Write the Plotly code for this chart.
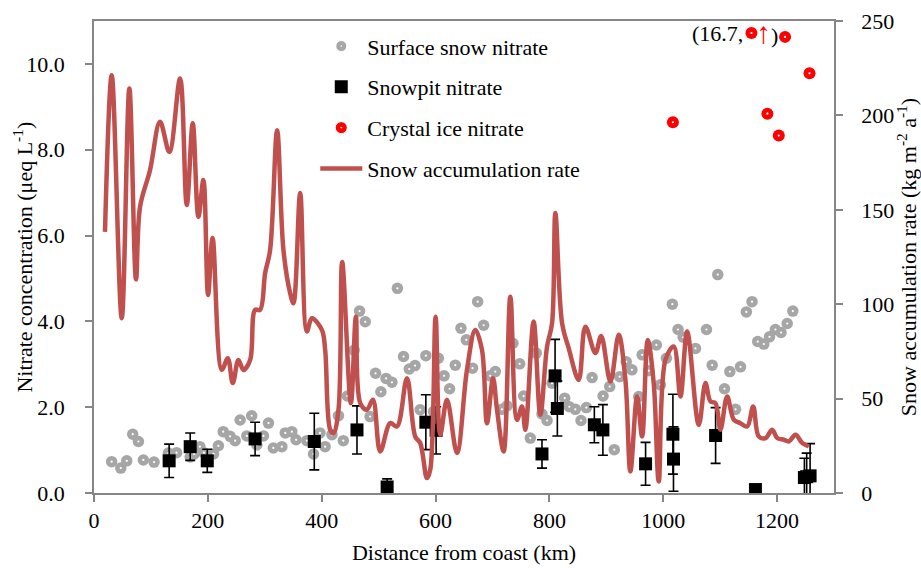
import plotly.graph_objects as go

# ---- Surface snow nitrate (µeq L-1) along the traverse ----
surface_km = [31, 47, 57.5, 68, 78, 86.7, 105.5, 130.7, 145, 169, 176, 186, 193, 210,
              218.5, 227, 239, 248, 256.7, 268.5, 277, 286, 297.7, 306.5, 315, 330, 336,
              347.5, 355, 374, 385.6, 388.5, 397, 406, 418, 429.5, 438, 445, 457, 466.5,
              476.5, 485, 494.6, 504, 513, 523.4, 533, 543.8, 553.8, 564, 573, 583, 596.6,
              605, 615, 624.7, 634.7, 644.7, 654, 665, 674, 684.5, 696, 705, 716.8, 725.6,
              736, 747.8, 754.8, 766.5, 777, 787, 795.9, 804.7, 826.9, 835, 845.6, 855.6,
              865, 875, 894.3, 906, 914, 923.5, 935, 945, 957, 963, 974.5, 988, 995,
              1005.6, 1016, 1026, 1035, 1056.6, 1076, 1086, 1095.8, 1107.6, 1117, 1127,
              1135.7, 1146, 1156, 1166, 1176.7, 1186.7, 1197, 1207, 1217.8, 1227.7]
surface_no3 = [0.73, 0.58, 0.75, 1.37, 1.20, 0.77, 0.72, 0.93, 0.94, 0.84, 0.91, 1.08, 0.94, 0.91,
               1.10, 1.43, 1.32, 1.22, 1.70, 1.33, 1.80, 1.12, 1.33, 1.63, 1.05, 1.08, 1.40,
               1.43, 1.24, 1.22, 0.91, 1.20, 1.40, 1.08, 1.36, 1.80, 1.22, 2.26, 3.33, 4.24,
               3.99, 1.78, 2.79, 2.36, 2.67, 2.58, 4.77, 3.18, 2.89, 2.97, 1.94, 3.20, 1.90,
               3.14, 2.73, 2.43, 2.98, 3.84, 3.57, 2.91, 4.46, 3.91, 2.73, 2.83, 1.95, 2.03,
               3.49, 3.01, 2.26, 1.28, 3.26, 1.84, 1.69, 2.56, 2.21, 2.01, 1.95, 1.69,
               1.99, 2.69, 2.26, 2.48, 1.01, 2.71, 3.06, 2.87, 2.25, 3.22, 2.85, 3.45, 2.52,
               3.14, 4.40, 3.81, 3.63, 3.37, 3.81, 2.98, 5.09, 2.43, 2.83, 1.95,
               2.94, 4.22, 4.46, 3.53, 3.47, 3.64, 3.81, 3.74, 3.95, 4.24]

# ---- Snowpit nitrate: mean and standard deviation ----
snowpit_km = [132, 169, 199, 283, 387, 462, 515, 583, 601, 787, 810, 814, 879, 894,
              969, 1017, 1018, 1092, 1162, 1248, 1252, 1258]
snowpit_no3 = [0.75, 1.08, 0.75, 1.26, 1.20, 1.47, 0.14, 1.65, 1.46, 0.91, 2.73, 1.97, 1.59, 1.47,
               0.68, 1.37, 0.79, 1.34, 0.08, 0.36, 0.38, 0.40]
snowpit_sd = [0.39, 0.32, 0.27, 0.39, 0.66, 0.56, 0.19, 0.64, 0.55, 0.33, 0.85, 0.64, 0.42, 0.59,
              0.50, 0.93, 0.75, 0.65, 0.0, 0.45, 0.55, 0.75]

# ---- Crystal ice nitrate ----
crystal_km = [1017, 1155, 1183, 1203, 1214, 1257]
crystal_no3 = [8.64, 16.7, 8.84, 8.33, 10.63, 9.78]

# ---- Snow accumulation rate (kg m-2 a-1) ----
accum_km = [19.3, 31.1, 48.7, 62.1, 73.8, 80.9, 98.5, 116, 132.4, 151.2, 163, 173.5, 183.4,
            192.2, 200.4, 208.3, 224.5, 235, 243.8, 253.7, 262.5, 274.3, 283, 291.8, 300.6,
            309.4, 321.7, 332.8, 344.6, 350.4, 362.2, 374, 382.7, 400.3, 406.1, 414.9, 420.7,
            429.5, 436, 451.3, 460.1, 467.7, 479.4, 490, 502.8, 520.4, 532.2, 549.8, 564.3,
            573.1, 584.9, 590.7, 600.1, 608.3, 620.1, 637.7, 655.2, 669.8, 681.6, 690.4, 701,
            708, 719.6, 731.4, 743.1, 751.9, 757.7, 772.3, 784.1, 795.9, 804.7, 810.5, 822.3,
            833.9, 851.5, 863.2, 880.8, 891, 907.2, 921.8, 933.6, 942.3, 954.1, 962.9, 972.8,
            983.3, 992.1, 1003.9, 1018.5, 1030.2, 1042, 1062.4, 1074.2, 1082.9, 1091.7,
            1100.5, 1112.3, 1124, 1135.7, 1147.5, 1158, 1167.9, 1179.7, 1191.4, 1200.2,
            1211.8, 1220.6, 1232.4, 1244.2, 1255.8]
accum_rate = [138.3, 221.3, 92.6, 214.3, 113.2, 151.6, 171.1, 196.6, 180.7, 219.6, 152.5, 195.8,
              146.3, 165.8, 104.9, 135.1, 65.2, 71.4, 58.2, 70.5, 65.2, 70.5, 97, 97, 116.4,
              128.7, 192.2, 128.7, 105.8, 100.5, 158.9, 85.5, 92.6, 86.4, 75.8, 33.5, 31.7,
              44.1, 122.4, 47.6, 93.4, 47.6, 44.1, 49.4, 22, 37, 35.2, 60.8, 29.9,
              26.5, 7.9, 12.3, 93.4, 30.8, 49.4, 21.2, 65.2, 86.4, 75.8, 37, 60.8,
              44.1, 22, 104, 38.8, 45.8, 33.5, 90.8, 41.4, 77.6, 89.9, 148.3, 89.9,
              76.7, 59.9, 88.1, 74.1, 83.2, 59, 83.8, 59.9, 11.4, 51.1, 29.9, 81.1,
              58.2, 6.1, 70.5, 77.6, 51.1, 85.5, 36.1, 58.2, 48.5, 47.6,
              33.5, 51.1, 38.8, 37, 35.2, 45.8, 29.9, 29.1, 33.5, 29.1,
              28.2, 27.3, 30.8, 26.5, 24.7]

Y_MAX = 11.0
OFF_SCALE_AT = 10.72   # values above the axis are drawn at this height and labelled
crystal_plot = [min(v, OFF_SCALE_AT) for v in crystal_no3]
off_scale = [(k, v) for k, v in zip(crystal_km, crystal_no3) if v > Y_MAX]

FONT = "Liberation Serif"
AXIS_GREY = "#868686"
DOT_GREY = "#A6A6A6"
RED = "#FF0000"
LINE_RED = "#C0504D"

fig = go.Figure()

# surface snow: grey discs with a small white centre
fig.add_trace(go.Scatter(x=surface_km, y=surface_no3, mode="markers", showlegend=False,
                         marker=dict(symbol="circle", size=11.5, color=DOT_GREY, line=dict(width=0))))
fig.add_trace(go.Scatter(x=surface_km, y=surface_no3, mode="markers", showlegend=False,
                         hoverinfo="skip",
                         marker=dict(symbol="circle", size=2.2, color="white", line=dict(width=0))))

# snowpit means with SD error bars
fig.add_trace(go.Scatter(x=snowpit_km, y=snowpit_no3, mode="markers", showlegend=False,
                         marker=dict(symbol="square", size=13, color="black", line=dict(width=0)),
                         error_y=dict(type="data", array=snowpit_sd, color="black",
                                      thickness=1.6, width=5)))

# crystal ice
fig.add_trace(go.Scatter(x=crystal_km, y=crystal_plot, mode="markers", showlegend=False,
                         marker=dict(symbol="circle", size=12, color=RED, line=dict(width=0))))
fig.add_trace(go.Scatter(x=crystal_km, y=crystal_plot, mode="markers", showlegend=False,
                         hoverinfo="skip",
                         marker=dict(symbol="circle", size=2.2, color="white", line=dict(width=0))))

# legend entries
fig.add_trace(go.Scatter(x=[None], y=[None], mode="markers", name="Surface snow nitrate",
                         legendgroup="a",
                         marker=dict(symbol="circle-dot", size=11, color=DOT_GREY,
                                     line=dict(width=1, color="white"))))
fig.add_trace(go.Scatter(x=[None], y=[None], mode="markers", name="Snowpit nitrate",
                         legendgroup="b",
                         marker=dict(symbol="square", size=13, color="black")))
fig.add_trace(go.Scatter(x=[None], y=[None], mode="markers", name="Crystal ice nitrate",
                         legendgroup="c",
                         marker=dict(symbol="circle-dot", size=12, color=RED,
                                     line=dict(width=1, color="white"))))

# accumulation rate on the secondary axis
fig.add_trace(go.Scatter(x=accum_km, y=accum_rate, mode="lines", name="Snow accumulation rate",
                         legendgroup="d", yaxis="y2",
                         line=dict(color=LINE_RED, width=4.5, shape="spline", smoothing=1.0)))

annotations = []
for k, v in off_scale:
    annotations.append(dict(x=k, y=OFF_SCALE_AT, xref="x", yref="y", text=f"({v},",
                            showarrow=False, xanchor="right", yanchor="middle", xshift=-6,
                            font=dict(family=FONT, size=22, color="black")))
    annotations.append(dict(x=k, y=OFF_SCALE_AT, xref="x", yref="y",
                            text=f"<span style='color:{RED};font-size:30px'>↑</span>)",
                            showarrow=False, xanchor="left", yanchor="middle", xshift=3,
                            yshift=1, font=dict(family=FONT, size=22, color="black")))

# left axis title placed beside the tick labels
annotations.append(dict(x=-0.0966, y=0.5, xref="paper", yref="paper", textangle=-90,
                        text="Nitrate concentration (μeq L<sup>-1</sup>)", showarrow=False,
                        xanchor="center", yanchor="middle",
                        font=dict(family=FONT, size=22, color="black")))

axis_common = dict(showline=True, linecolor=AXIS_GREY, linewidth=1.5, ticks="outside",
                   ticklen=7, tickwidth=1.5, tickcolor=AXIS_GREY, showgrid=False,
                   zeroline=False, automargin=False,
                   tickfont=dict(family=FONT, size=22, color="black"))

fig.update_layout(
    width=921, height=568,
    margin=dict(l=94, r=87, t=21, b=75),
    paper_bgcolor="white", plot_bgcolor="white",
    font=dict(family=FONT, size=22, color="black"),
    showlegend=True,
    legend=dict(x=0.299, y=0.991, xanchor="left", yanchor="top", bgcolor="rgba(0,0,0,0)",
                tracegroupgap=9.2, itemwidth=42,
                font=dict(family=FONT, size=22, color="black")),
    xaxis=dict(range=[0, 1300], tickvals=[0, 200, 400, 600, 800, 1000, 1200], mirror=True,
               title=dict(text="Distance from coast (km)", standoff=12,
                          font=dict(family=FONT, size=22)),
               **axis_common),
    yaxis=dict(range=[0, Y_MAX], tickvals=[0, 2, 4, 6, 8, 10], tickformat=".1f",
               ticklabelstandoff=16, **axis_common),
    yaxis2=dict(range=[0, 250], tickvals=[0, 50, 100, 150, 200, 250], overlaying="y",
                side="right", ticklabelstandoff=14,
                title=dict(text="Snow accumulation rate (kg m<sup>-2</sup> a<sup>-1</sup>)",
                           standoff=6, font=dict(family=FONT, size=22)),
                **axis_common),
    annotations=annotations,
)

fig.write_html("out.html")
